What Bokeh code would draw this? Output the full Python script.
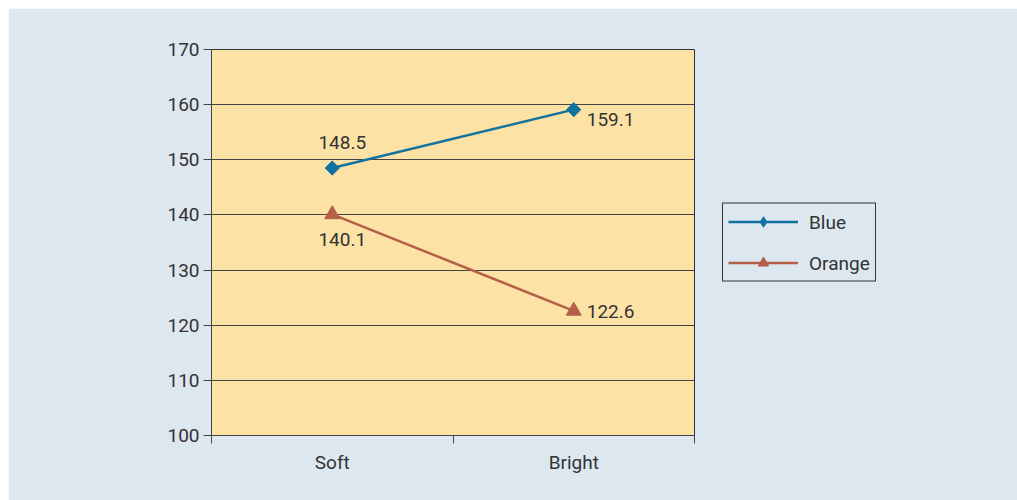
import math
from bokeh.plotting import figure
from bokeh.models import FixedTicker, Range1d, ColumnDataSource, Legend, LegendItem
from bokeh.core.properties import value
from bokeh.embed import file_html
from bokeh.resources import INLINE

categories = ["Soft", "Bright"]
blue_values = [148.5, 159.1]
orange_values = [140.1, 122.6]
y_ticks = [100, 110, 120, 130, 140, 150, 160, 170]

FONT = "Roboto"
FS = "19px"
TEXT = "#333333"
BLUE = "#11719f"
ORANGE = "#b45f47"
BG = "#dce7ef"
PLOT_BG = "#fde2a6"

xs = [i + 0.5 for i in range(len(categories))]

p = figure(frame_width=483, frame_height=386, output_backend="svg", toolbar_location=None,
           x_range=Range1d(0, len(categories)), y_range=Range1d(100, 170),
           margin=(8, 0, 0, 8),
           min_border_left=203, min_border_right=323, min_border_top=41, min_border_bottom=65)
p.background_fill_color = PLOT_BG
p.border_fill_color = BG
p.outline_line_color = "#333333"
p.outline_line_width = 1

# grid
p.xgrid.visible = False
p.ygrid.ticker = FixedTicker(ticks=y_ticks)
p.ygrid.grid_line_color = "#444444"
p.ygrid.grid_line_width = 1

# y axis
p.yaxis.ticker = FixedTicker(ticks=y_ticks)
p.yaxis.axis_line_color = "#444444"
p.yaxis.major_tick_line_color = "#444444"
p.yaxis.major_tick_out = 8
p.yaxis.major_tick_in = 0
p.yaxis.minor_tick_line_color = None
p.yaxis.major_label_text_font = FONT
p.yaxis.major_label_text_font_size = FS
p.yaxis.major_label_text_color = TEXT
p.yaxis.major_label_standoff = 4

# x axis: labels at category centres, ticks at boundaries
p.xaxis.ticker = FixedTicker(ticks=xs, minor_ticks=list(range(len(categories) + 1)))
p.xaxis.major_label_overrides = {x: c for x, c in zip(xs, categories)}
p.xaxis.axis_line_color = "#444444"
p.xaxis.major_tick_line_color = None
p.xaxis.major_tick_out = 0
p.xaxis.minor_tick_line_color = "#444444"
p.xaxis.minor_tick_out = 8
p.xaxis.minor_tick_in = 0
p.xaxis.major_label_text_font = FONT
p.xaxis.major_label_text_font_size = FS
p.xaxis.major_label_text_color = TEXT
p.xaxis.major_label_standoff = 7

src_b = ColumnDataSource(dict(x=xs, y=blue_values))
src_o = ColumnDataSource(dict(x=xs, y=orange_values))

lb = p.line("x", "y", source=src_b, line_color=BLUE, line_width=2.5)
# diamond (used for legend) sits hidden under a rotated square of the same colour
mb_leg = p.scatter("x", "y", source=src_b, marker="diamond", size=13,
                   fill_color=BLUE, line_color=BLUE)
mb = p.scatter("x", "y", source=src_b, marker="square", size=10, angle=math.pi / 4,
               fill_color=BLUE, line_color=BLUE)
lo = p.line("x", "y", source=src_o, line_color=ORANGE, line_width=2.5)
mo = p.scatter("x", "y", source=src_o, marker="triangle", size=15, fill_color=ORANGE, line_color=ORANGE)

# data labels
def lab(x, y, align, baseline, xo, yo):
    p.text(x=[x], y=[y], text=[f"{y:.1f}"], text_font=value(FONT), text_font_size=FS,
           text_color=TEXT, text_align=align, text_baseline=baseline, x_offset=xo, y_offset=yo)

lab(xs[0], blue_values[0], "center", "bottom", 10, -19)
lab(xs[1], blue_values[1], "left", "top", 13, 3)
lab(xs[0], orange_values[0], "center", "top", 10, 19)
lab(xs[1], orange_values[1], "left", "middle", 13, 1)

legend = Legend(items=[LegendItem(label="Blue", renderers=[lb, mb_leg]),
                       LegendItem(label="Orange", renderers=[lo, mo])],
                location="left")
legend.border_line_color = "#333333"
legend.border_line_width = 1
legend.border_line_alpha = 1
legend.background_fill_color = BG
legend.background_fill_alpha = 1
legend.label_text_font = FONT
legend.label_text_font_size = FS
legend.label_text_color = TEXT
legend.glyph_width = 70
legend.glyph_height = 26
legend.label_height = 26
legend.label_standoff = 11
legend.spacing = 15
legend.padding = 5
legend.margin = 28
p.add_layout(legend, "right")

open("out.html", "w").write(file_html(p, INLINE))
